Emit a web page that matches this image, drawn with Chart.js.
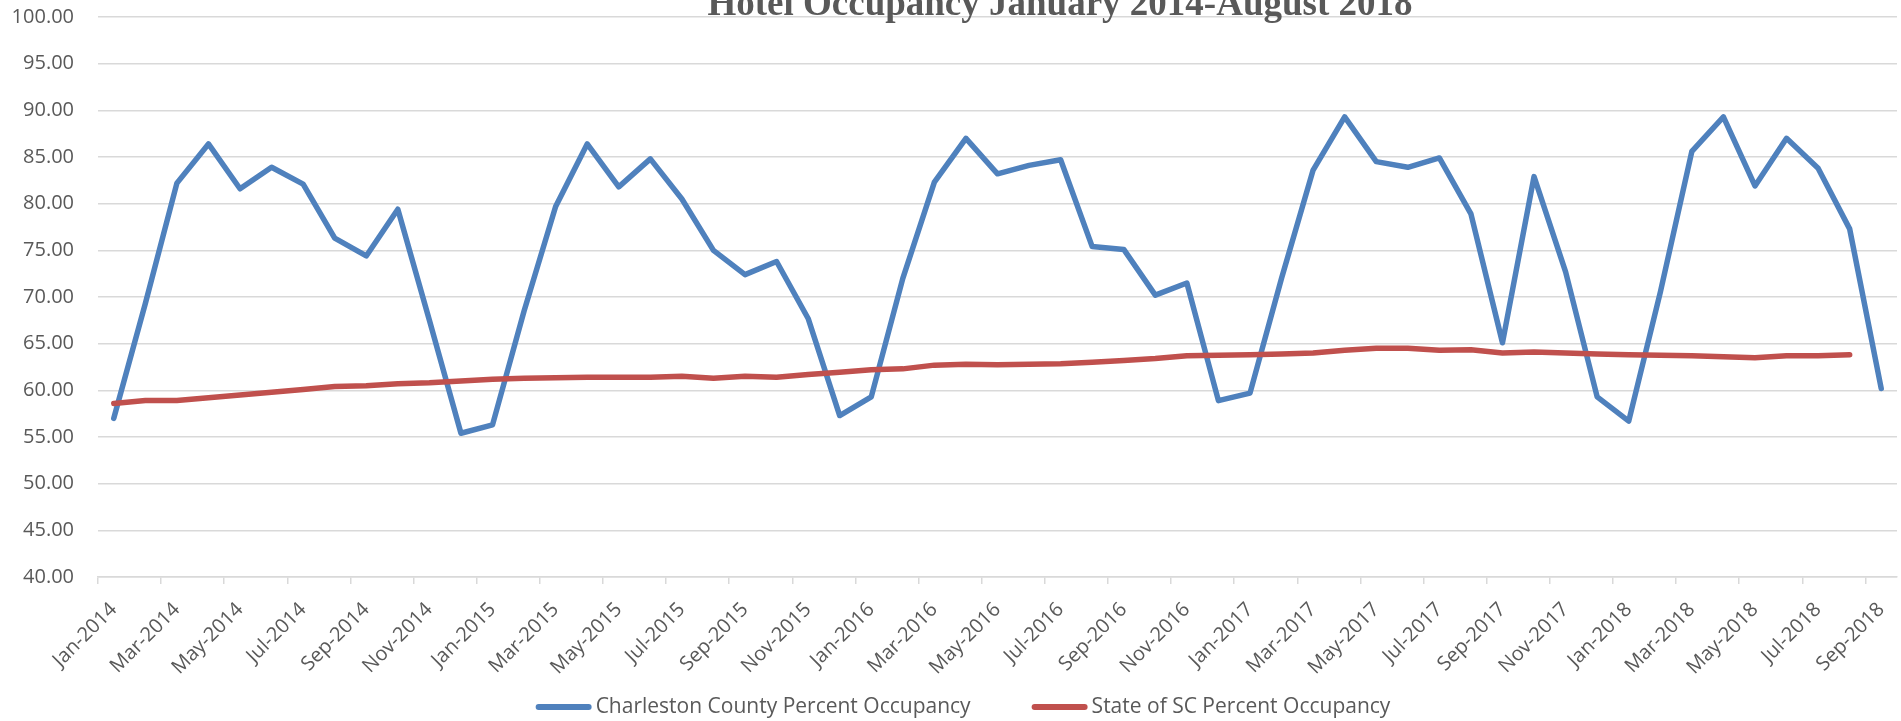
<!DOCTYPE html>
<html>
<head>
<meta charset="utf-8">
<title>Hotel Occupancy</title>
<script src="https://cdn.jsdelivr.net/npm/chart.js@4.4.1/dist/chart.umd.min.js"></script>
<style>
  body { margin: 0; background: #fff; overflow: hidden; }
  canvas { display: block; }
</style>
</head>
<body>
<canvas id="graficaOcupacion" width="1901" height="721"></canvas>
<script>
const titulo = 'Hotel Occupancy January 2014-August 2018';

const meses = [
  'Jan-2014', 'Feb-2014', 'Mar-2014', 'Apr-2014', 'May-2014', 'Jun-2014', 'Jul-2014', 'Aug-2014', 'Sep-2014', 'Oct-2014', 'Nov-2014', 'Dec-2014',
  'Jan-2015', 'Feb-2015', 'Mar-2015', 'Apr-2015', 'May-2015', 'Jun-2015', 'Jul-2015', 'Aug-2015', 'Sep-2015', 'Oct-2015', 'Nov-2015', 'Dec-2015',
  'Jan-2016', 'Feb-2016', 'Mar-2016', 'Apr-2016', 'May-2016', 'Jun-2016', 'Jul-2016', 'Aug-2016', 'Sep-2016', 'Oct-2016', 'Nov-2016', 'Dec-2016',
  'Jan-2017', 'Feb-2017', 'Mar-2017', 'Apr-2017', 'May-2017', 'Jun-2017', 'Jul-2017', 'Aug-2017', 'Sep-2017', 'Oct-2017', 'Nov-2017', 'Dec-2017',
  'Jan-2018', 'Feb-2018', 'Mar-2018', 'Apr-2018', 'May-2018', 'Jun-2018', 'Jul-2018', 'Aug-2018', 'Sep-2018'
];

// Charleston County (Jan-2014 .. Sep-2018)
const charleston = [
  57.0, 69.3, 82.2, 86.4, 81.6, 83.9, 82.1, 76.3, 74.4, 79.4, 67.5, 55.4,
  56.3, 68.5, 79.7, 86.4, 81.8, 84.8, 80.5, 75.0, 72.4, 73.8, 67.7, 57.3,
  59.3, 72.0, 82.3, 87.0, 83.2, 84.1, 84.7, 75.4, 75.1, 70.2, 71.5, 58.9,
  59.7, 72.0, 83.6, 89.3, 84.5, 83.9, 84.9, 78.9, 65.1, 82.9, 72.7, 59.3,
  56.7, 70.5, 85.6, 89.3, 81.9, 87.0, 83.8, 77.3, 60.2
];

// State of SC (Jan-2014 .. Aug-2018)
const estadoSC = [
  58.6, 58.9, 58.9, 59.2, 59.5, 59.8, 60.1, 60.4, 60.5, 60.7, 60.8, 61.0,
  61.2, 61.3, 61.35, 61.4, 61.4, 61.4, 61.5, 61.3, 61.5, 61.4, 61.7, 61.95,
  62.2, 62.3, 62.7, 62.8, 62.75, 62.8, 62.85, 63.0, 63.2, 63.4, 63.7, 63.75,
  63.8, 63.9, 64.0, 64.3, 64.5, 64.5, 64.3, 64.35, 64.0, 64.1, 64.0, 63.9,
  63.8, 63.75, 63.7, 63.6, 63.5, 63.7, 63.7, 63.8
];

const ejeY = { min: 40, max: 100, paso: 5 };

const gris = '#595959';
const rejilla = '#d9d9d9';
const fuente = '"Open Sans"';

// titulo cortado arriba, como en la imagen original
const tituloPlugin = {
  id: 'tituloRecortado',
  afterDraw(chart) {
    const ctx = chart.ctx;
    ctx.save();
    ctx.font = 'bold 37px "Liberation Serif"';
    ctx.fillStyle = gris;
    ctx.textAlign = 'center';
    ctx.textBaseline = 'alphabetic';
    ctx.fillText(titulo, 1060, 15);
    ctx.restore();
  }
};

// leyenda propia: linea gruesa + texto, centrada abajo
const leyendaPlugin = {
  id: 'leyendaInferior',
  afterDraw(chart) {
    const ctx = chart.ctx;
    const y = 707;
    const largoLinea = 56;
    const separacion = 61;
    ctx.save();
    ctx.font = '21px ' + fuente;
    ctx.textBaseline = 'middle';
    const items = chart.data.datasets.map(ds => ({
      ds,
      ancho: largoLinea + 4 + ctx.measureText(ds.label).width
    }));
    const total = items.reduce((s, it) => s + it.ancho, 0) + separacion * (items.length - 1);
    let x = 963 - total / 2;
    items.forEach(({ ds, ancho }) => {
      ctx.strokeStyle = ds.borderColor;
      ctx.lineWidth = 6;
      ctx.lineCap = 'round';
      ctx.beginPath();
      ctx.moveTo(x + 3, y);
      ctx.lineTo(x + largoLinea - 3, y);
      ctx.stroke();
      ctx.fillStyle = gris;
      ctx.textAlign = 'left';
      ctx.fillText(ds.label, x + largoLinea + 4, y);
      x += ancho + separacion;
    });
    ctx.restore();
  }
};

const ctx = document.getElementById('graficaOcupacion').getContext('2d');

new Chart(ctx, {
  type: 'line',
  data: {
    labels: meses,
    datasets: [
      {
        label: 'Charleston County Percent Occupancy',
        data: charleston,
        borderColor: '#4f81bd',
        backgroundColor: '#4f81bd',
        borderWidth: 5.5,
        pointRadius: 0,
        tension: 0,
        borderJoinStyle: 'round',
        borderCapStyle: 'round',
        order: 1
      },
      {
        label: 'State of SC Percent Occupancy',
        data: estadoSC,
        borderColor: '#c0504d',
        backgroundColor: '#c0504d',
        borderWidth: 5.5,
        pointRadius: 0,
        tension: 0,
        borderJoinStyle: 'round',
        borderCapStyle: 'round',
        order: 0
      }
    ]
  },
  options: {
    responsive: false,
    animation: false,
    layout: { padding: { left: 0, right: 4, top: 0, bottom: 0 } },
    plugins: {
      legend: { display: false },
      tooltip: { enabled: false }
    },
    scales: {
      x: {
        offset: true,
        grid: {
          offset: true,
          drawOnChartArea: false,
          drawTicks: true,
          tickLength: 7,
          lineWidth: 1.5,
          color: (c) => (c.index % 2 === 0 ? rejilla : 'rgba(0,0,0,0)')
        },
        border: { color: rejilla, width: 1.5 },
        ticks: {
          autoSkip: false,
          minRotation: 45,
          maxRotation: 45,
          padding: 14,
          color: gris,
          font: { family: fuente, size: 20 },
          callback: (v, i) => (i % 2 === 0 ? meses[i] : '')
        },
        afterFit: (s) => {
          s.height = 144;
          s.paddingLeft = 0;
          s.paddingRight = 0;
        }
      },
      y: {
        min: ejeY.min,
        max: ejeY.max,
        grid: { color: rejilla, lineWidth: 1.5, drawTicks: false },
        border: { display: false },
        ticks: {
          stepSize: ejeY.paso,
          padding: 24,
          color: gris,
          font: { family: fuente, size: 20 },
          callback: (v) => v.toFixed(2)
        },
        afterFit: (s) => {
          s.width = 98;
          s.paddingTop = 17;
          s.paddingBottom = 0;
        }
      }
    }
  },
  plugins: [tituloPlugin, leyendaPlugin]
});
</script>
</body>
</html>
